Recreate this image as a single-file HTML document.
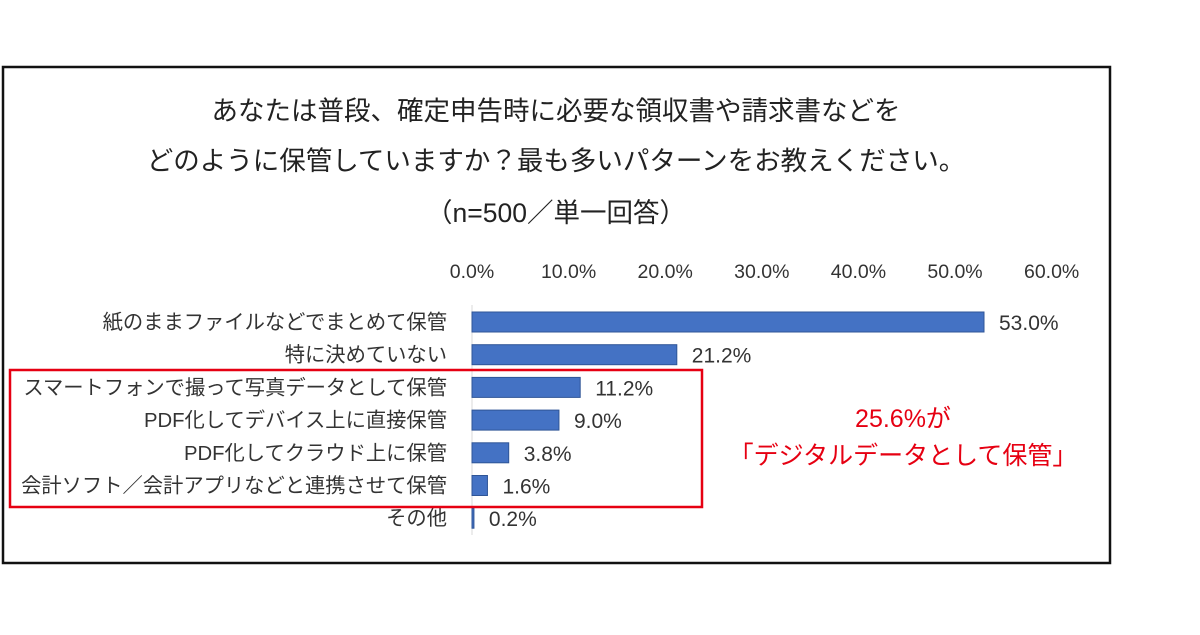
<!DOCTYPE html>
<html><head><meta charset="utf-8"><style>
body{margin:0;background:#fff;width:1200px;height:630px;overflow:hidden;font-family:"Liberation Sans","Noto Sans CJK JP",sans-serif;}
svg text{font-family:"Liberation Sans","Noto Sans CJK JP",sans-serif;}
</style></head><body>
<svg id="c" width="1200" height="630">
<rect x="3" y="67" width="1107" height="496" fill="#fff" stroke="#111" stroke-width="2.5"/>
<text x="556" y="120" font-size="26.5" text-anchor="middle" fill="#222">あなたは普段、確定申告時に必要な領収書や請求書などを</text>
<text x="556" y="170" font-size="26.5" text-anchor="middle" fill="#222">どのように保管していますか？最も多いパターンをお教えください。</text>
<text x="556" y="222" font-size="26.5" text-anchor="middle" fill="#222">（n=500／単一回答）</text>
<line x1="472" y1="305" x2="472" y2="535" stroke="#d9d9d9" stroke-width="1"/>
<g id="bars"></g>
<rect x="10" y="370" width="692" height="137" fill="none" stroke="#e60012" stroke-width="2.5"/>
<text x="903" y="427" font-size="25" text-anchor="middle" fill="#e60012">25.6%が</text>
<text x="903" y="464" font-size="25" text-anchor="middle" fill="#e60012">「デジタルデータとして保管」</text>
</svg>
<script>
const categories=["紙のままファイルなどでまとめて保管","特に決めていない","スマートフォンで撮って写真データとして保管","PDF化してデバイス上に直接保管","PDF化してクラウド上に保管","会計ソフト／会計アプリなどと連携させて保管","その他"];
const values=[53.0,21.2,11.2,9.0,3.8,1.6,0.2];
const ticks=[0,10,20,30,40,50,60];
const svg=document.getElementById('c');
const g=document.getElementById('bars');
const NS='http://www.w3.org/2000/svg';
const x=v=>472+v*(984-472)/53;
const y=i=>322+i*32.7;
function mk(t,a){const e=document.createElementNS(NS,t);for(const k in a)e.setAttribute(k,a[k]);return e;}
ticks.forEach(t=>{
 const e=mk('text',{x:x(t),y:278,'font-size':19.5,'text-anchor':'middle',fill:'#333'});
 
 
 e.textContent=t.toFixed(1)+'%';g.appendChild(e);
});
categories.forEach((c,i)=>{
 const l=mk('text',{x:447,y:y(i)+7,'font-size':20.3,'text-anchor':'end',fill:'#333'});
 
 
 l.textContent=c;g.appendChild(l);
 const b=mk('rect',{x:472,y:y(i)-10,width:Math.max(x(values[i])-472,1.5),height:20,fill:'#4472c4',stroke:'#2f5597','stroke-width':1});
 
 
 g.appendChild(b);
 const v=mk('text',{x:x(values[i])+15,y:y(i)+8,'font-size':21,fill:'#333'});
 
 
 v.textContent=values[i].toFixed(1)+'%';g.appendChild(v);
});
</script>
</body></html>
